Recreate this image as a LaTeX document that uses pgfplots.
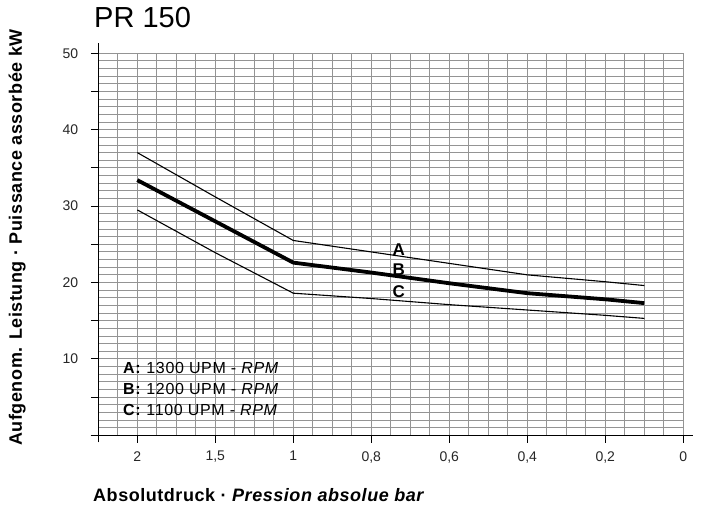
\documentclass[border=0pt]{standalone}
\usepackage{fontspec}
\setmainfont{Liberation Sans}
\newfontfamily\tracked[LetterSpace=3]{Liberation Sans}
\newfontfamily\legendfont[LetterSpace=4]{Liberation Sans}
\usepackage{pgfplots}
\pgfplotsset{compat=1.18}

\begin{document}
\begin{tikzpicture}
\begin{axis}[
  scale only axis, width=585bp, height=382bp,
  xmin=-0.5, xmax=7, ymin=0, ymax=50,
  clip=false,
  axis line style={draw=none},
  xtick distance=0.25, ytick distance=1,
  xticklabel=\empty, yticklabel=\empty,
  major tick length=0pt,
  grid=major,
  major grid style={draw=black!42, line width=0.9bp},
  xtick pos=bottom, ytick pos=left, tick align=outside,
  extra x ticks={0,1,2,3,4,5,6,7},
  extra x tick labels={2,{1,5},1,{0,8},{0,6},{0,4},{0,2},0},
  extra y ticks={0,5,...,50},
  extra y tick labels={,,10,,20,,30,,40,,50},
  extra tick style={grid=none, major tick length=7.5bp,
    tick style={draw=black, line width=1bp}},
  tick label style={font=\fontsize{14bp}{16bp}\selectfont, text=black!85},
  xticklabel style={yshift=-5bp},
  yticklabel style={xshift=-9bp},
]
% A: 1300 UPM
\addplot[black, line width=1.1bp, line join=round] coordinates {
  (0,37.0) (1,31.2) (2,25.5) (3,24.0) (4,22.5) (5,21.0) (6,20.1) (6.5,19.6)};
% B: 1200 UPM
\addplot[black, line width=3.8bp, line join=round] coordinates {
  (0,33.4) (1,28.0) (2,22.6) (3,21.3) (4,19.9) (5,18.6) (6,17.8) (6.5,17.3)};
% C: 1100 UPM
\addplot[black, line width=1.1bp, line join=round] coordinates {
  (0,29.5) (1,23.9) (2,18.6) (3,17.9) (4,17.1) (5,16.4) (6,15.7) (6.5,15.3)};
% axis lines, running a little past the grid
\draw[black, line width=1bp] (axis cs:-0.6,0) -- (axis cs:7.12,0);
\draw[black, line width=1bp] (axis cs:-0.5,-0.92) -- (axis cs:-0.5,51.3);
\coordinate (O) at (axis cs:-1.7603,56.976);
\end{axis}
\begin{scope}[shift={(O)}, x=1bp, y=-1bp]
  \node[anchor=base west, inner sep=0, font=\fontsize{29bp}{32bp}\selectfont] at (94,28) {PR 150};
  \node[anchor=base west, inner sep=0, font=\tracked\bfseries\fontsize{18bp}{20bp}\selectfont]
    at (93,502) {Absolutdruck · \textit{Pression absolue bar}};
  \node[rotate=90, anchor=base, inner sep=0, font=\tracked\bfseries\fontsize{18bp}{20bp}\selectfont]
    at (22,237.5) {Aufgenom. Leistung · Puissance assorbée kW};
  \begin{scope}[every node/.style={anchor=base west, inner sep=0,
      font=\legendfont\fontsize{16bp}{18bp}\selectfont}]
    \node at (123,374) {\textbf{A:} 1300 UPM - \textit{RPM}};
    \node at (123,395) {\textbf{B:} 1200 UPM - \textit{RPM}};
    \node at (123,416) {\textbf{C:} 1100 UPM - \textit{RPM}};
  \end{scope}
  \begin{scope}[every node/.style={inner sep=0, font=\bfseries\fontsize{17bp}{19bp}\selectfont}]
    \node at (398.7,250) {A};
    \node at (398.7,269.3) {B};
    \node at (398.7,291.3) {C};
  \end{scope}
\end{scope}
\pgfresetboundingbox
\path[use as bounding box] (O) rectangle ++(701bp,-506bp);
\end{tikzpicture}
\end{document}
